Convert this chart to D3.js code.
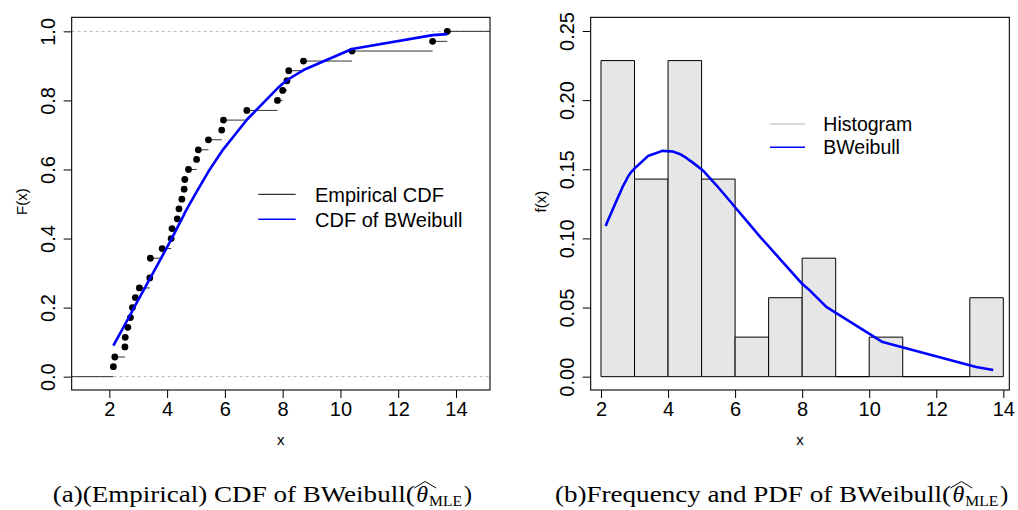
<!DOCTYPE html>
<html><head><meta charset="utf-8">
<script src="https://d3js.org/d3.v7.min.js"></script>
<style>body{margin:0;background:#fff}</style>
</head><body>
<svg id="c" width="1018" height="510" xmlns="http://www.w3.org/2000/svg"></svg>
<script>
// ---------- data ----------
const ecdfX = [2.14,2.19,2.54,2.55,2.64,2.73,2.80,2.90,3.04,3.40,3.42,3.83,4.14,4.17,4.35,4.41,4.51,4.59,4.61,4.74,5.02,5.08,5.43,5.89,5.95,6.76,7.82,8.00,8.15,8.21,8.72,10.40,13.19,13.70];
const ecdfF = [0.029,0.057,0.086,0.114,0.143,0.171,0.200,0.229,0.257,0.286,0.343,0.371,0.400,0.429,0.457,0.486,0.514,0.543,0.571,0.600,0.629,0.657,0.686,0.714,0.743,0.771,0.800,0.829,0.857,0.886,0.914,0.943,0.971,1.000];
const cdfFit = [0.090,0.098,0.151,0.153,0.166,0.180,0.191,0.207,0.228,0.283,0.286,0.349,0.397,0.402,0.431,0.441,0.457,0.470,0.474,0.494,0.535,0.544,0.594,0.652,0.659,0.744,0.835,0.848,0.858,0.862,0.888,0.949,0.989,0.992];
const pdfFit = [0.109,0.112,0.1315,0.132,0.137,0.141,0.1445,0.148,0.1515,0.1595,0.1598,0.1633,0.1628,0.1626,0.1610,0.1603,0.1588,0.1574,0.1570,0.1548,0.1495,0.1482,0.1388,0.1258,0.1240,0.1008,0.0720,0.0672,0.0640,0.0628,0.0505,0.0250,0.0070,0.0048];
const histBreaks = [2,3,4,5,6,7,8,9,10,11,12,13,14];
const histDensity = [0.2286,0.1429,0.2286,0.1429,0.0286,0.0571,0.0857,0,0.0286,0,0,0.0571];
const xTicks = [2,4,6,8,10,12,14];
const cdfTicks = [0,0.2,0.4,0.6,0.8,1.0];
const cdfTickLabels = ["0.0","0.2","0.4","0.6","0.8","1.0"];
const pdfTicks = [0,0.05,0.10,0.15,0.20,0.25];
const pdfTickLabels = ["0.00","0.05","0.10","0.15","0.20","0.25"];
const legendA = ["Empirical CDF","CDF of BWeibull"];
const legendB = ["Histogram","BWeibull"];
const captionA = "(a)(Empirical) CDF of BWeibull(";
const captionB = "(b)Frequency and PDF of BWeibull(";

// ---------- setup ----------
const SANS = "'Liberation Sans', Arial, Helvetica, sans-serif";
const SERIF = "'Liberation Serif', 'Times New Roman', serif";
const BLUE = "#0000ff";
const svg = d3.select("#c");
const defs = svg.append("defs");

function makeAxes(box, x, y, yTicks, yLabels, xlab, ylab) {
  const gx = svg.append("g").attr("transform", `translate(0,${box.bottom})`)
    .call(d3.axisBottom(x).tickValues(xTicks).tickSize(8).tickSizeOuter(0).tickFormat(d3.format("d")));
  gx.attr("font-family", SANS).attr("font-size", 20);
  gx.select(".domain").remove();
  gx.selectAll("text").attr("y", 26).attr("dy", null).attr("fill", "#000");
  const gy = svg.append("g").attr("transform", `translate(${box.left},0)`)
    .call(d3.axisLeft(y).tickValues(yTicks).tickSize(8).tickSizeOuter(0).tickFormat((d, i) => yLabels[i]));
  gy.attr("font-family", SANS).attr("font-size", 20);
  gy.select(".domain").remove();
  gy.selectAll("text").attr("x", 0).attr("dy", null).attr("text-anchor", "middle")
    .attr("transform", "translate(-17,0) rotate(-90)").attr("fill", "#000");
  svg.append("rect").attr("x", box.left).attr("y", box.top)
    .attr("width", box.right - box.left).attr("height", box.bottom - box.top)
    .attr("fill", "none").attr("stroke", "#000").attr("stroke-width", 1.1);
  svg.append("text").attr("x", (box.left + box.right) / 2).attr("y", 445)
    .attr("text-anchor", "middle").attr("font-family", SANS).attr("font-size", 15).text(xlab);
  svg.append("text").attr("transform", `translate(${box.left - 45},${(box.top + box.bottom) / 2 - 2}) rotate(-90)`)
    .attr("text-anchor", "middle").attr("font-family", SANS).attr("font-size", 15).text(ylab);
}

// ---------- Panel A ----------
const A = {left: 71.67, right: 490, top: 17.33, bottom: 390};
const xA = d3.scaleLinear().domain([0.696, 15.177]).range([A.left, A.right]);
const yA = d3.scaleLinear().domain([-0.0386, 1.0406]).range([A.bottom, A.top]);
defs.append("clipPath").attr("id", "clipA").append("rect")
  .attr("x", A.left).attr("y", A.top).attr("width", A.right - A.left).attr("height", A.bottom - A.top);
const gA = svg.append("g").attr("clip-path", "url(#clipA)");
[0, 1].forEach(v => gA.append("line").attr("x1", A.left).attr("x2", A.right)
  .attr("y1", yA(v)).attr("y2", yA(v)).attr("stroke", "#b5b5b5").attr("stroke-dasharray", "3,3"));
const segs = ecdfX.map((x, i) => ({x0: x, x1: i < ecdfX.length - 1 ? ecdfX[i + 1] : xA.domain()[1], y: ecdfF[i]}));
segs.unshift({x0: xA.domain()[0], x1: ecdfX[0], y: 0});
gA.selectAll("line.seg").data(segs).join("line").attr("class", "seg")
  .attr("x1", d => xA(d.x0)).attr("x2", d => xA(d.x1)).attr("y1", d => yA(d.y)).attr("y2", d => yA(d.y))
  .attr("stroke", "#333").attr("stroke-width", 1);
gA.selectAll("circle").data(ecdfX).join("circle")
  .attr("cx", d => xA(d)).attr("cy", (d, i) => yA(ecdfF[i])).attr("r", 3.4).attr("fill", "#000");
gA.append("path").datum(ecdfX.map((d, i) => [d, cdfFit[i]]))
  .attr("d", d3.line().x(d => xA(d[0])).y(d => yA(d[1])))
  .attr("fill", "none").attr("stroke", BLUE).attr("stroke-width", 2.6).attr("stroke-linejoin", "round");
makeAxes(A, xA, yA, cdfTicks, cdfTickLabels, "x", "F(x)");
// legend A
[{c: "#000", w: 1}, {c: BLUE, w: 1.4}].forEach((s, i) => {
  const yy = 194.3 + i * 25;
  svg.append("line").attr("x1", 258.3).attr("x2", 295.7).attr("y1", yy).attr("y2", yy)
    .attr("stroke", s.c).attr("stroke-width", s.w);
  svg.append("text").attr("x", 315).attr("y", yy + 7.2).attr("font-family", SANS).attr("font-size", 20).text(legendA[i]);
});

// ---------- Panel B ----------
const B = {left: 590.67, right: 1009.33, top: 17.33, bottom: 390};
const xB = d3.scaleLinear().domain([1.692, 14.179]).range([B.left, B.right]);
const yB = d3.scaleLinear().domain([-0.00964, 0.25989]).range([B.bottom, B.top]);
const gB = svg.append("g");
gB.selectAll("path.bar").data(histDensity).join("path").attr("class", "bar")
  .attr("d", (d, i) => `M${xB(histBreaks[i])},${yB(0)}V${yB(d)}H${xB(histBreaks[i + 1])}V${yB(0)}Z`)
  .attr("fill", "#e6e6e6").attr("stroke", "#000").attr("stroke-width", 1);
gB.append("path").datum(ecdfX.map((d, i) => [d, pdfFit[i]]))
  .attr("d", d3.line().x(d => xB(d[0])).y(d => yB(d[1])))
  .attr("fill", "none").attr("stroke", BLUE).attr("stroke-width", 2.6).attr("stroke-linejoin", "round");
makeAxes(B, xB, yB, pdfTicks, pdfTickLabels, "x", "f(x)");
[{c: "#d9d9d9", w: 1.8}, {c: BLUE, w: 1.6}].forEach((s, i) => {
  const yy = 124 + i * 23.3;
  svg.append("line").attr("x1", 770).attr("x2", 805).attr("y1", yy).attr("y2", yy)
    .attr("stroke", s.c).attr("stroke-width", s.w);
  svg.append("text").attr("x", 823.3).attr("y", yy + 7).attr("font-family", SANS).attr("font-size", 19.5).text(legendB[i]);
});

// ---------- captions ----------
function caption(x0, y, txt, len) {
  const g = svg.append("g").attr("font-family", SERIF).attr("fill", "#000");
  g.append("text").attr("x", x0).attr("y", y).attr("font-size", 24)
    .attr("textLength", len).attr("lengthAdjust", "spacingAndGlyphs").text(txt);
  const tx = x0 + len + 1.5;
  const th = g.append("text").attr("x", tx).attr("y", y).attr("font-size", 24).attr("font-style", "italic").text("θ");
  const tw = th.node().getComputedTextLength();
  g.append("path").attr("d", `M${tx - 2},${y - 14} L${tx + tw / 2 + 3},${y - 20.5} L${tx + tw + 8},${y - 14}`)
    .attr("fill", "none").attr("stroke", "#000").attr("stroke-width", 1);
  const mx = tx + tw + 1;
  g.append("text").attr("x", mx).attr("y", y + 3.5).attr("font-size", 15).attr("textLength", 33)
    .attr("lengthAdjust", "spacingAndGlyphs").text("MLE");
  g.append("text").attr("x", mx + 35).attr("y", y).attr("font-size", 24).text(")");
}
caption(52.7, 502, captionA, 362);
caption(555, 502, captionB, 396);
</script>
</body></html>
